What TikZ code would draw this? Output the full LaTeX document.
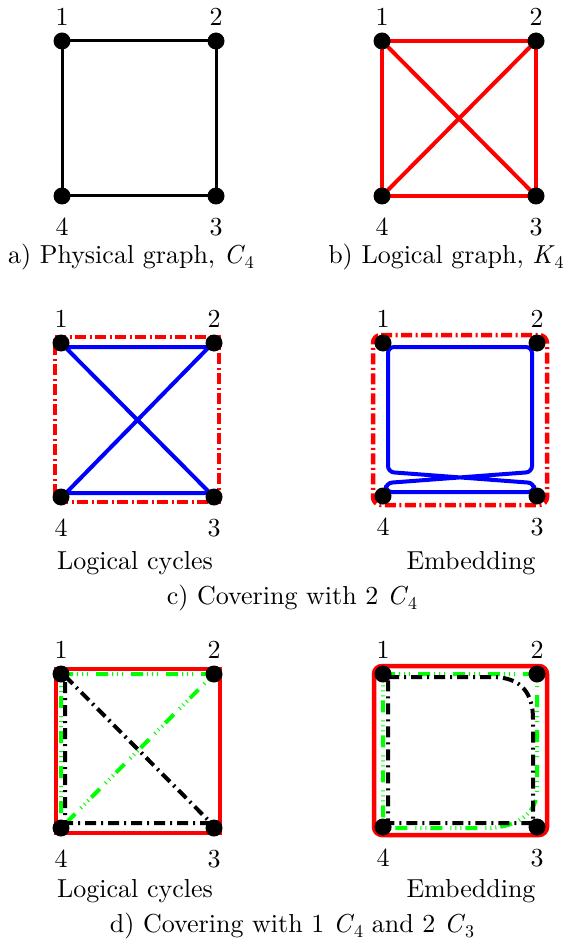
\documentclass[tikz,border=0pt]{standalone}
\usepackage{fontspec}
\setmainfont{lmroman10-regular.otf}[ItalicFont=lmroman10-italic.otf]
\usetikzlibrary{calc}
\pgfdeclarelayer{bg}
\pgfsetlayers{bg,main}
\definecolor{pgreen}{RGB}{0,255,0}
\definecolor{pred}{RGB}{255,0,0}
\definecolor{pblue}{RGB}{0,0,255}
\newcommand{\tkvup}[4]{\node[vtx,label={[lbl,name=#1l,label distance=7pt]above:#4}] (#1) at (#2,#3) {};}
\newcommand{\tkvdn}[4]{\node[vtx,label={[lbl,name=#1l,label distance=13pt]below:#4}] (#1) at (#2,#3) {};}
\newcommand{\tkcs}[2]{\textit{#1}\raisebox{-0.2em}{\fontsize{18}{20}\selectfont #2}}
\begin{document}
\begin{tikzpicture}[x=1pt,y=-1pt,
  every node/.style={font=\fontsize{26}{31}\selectfont},
  vtx/.style={circle,fill=black,inner sep=0pt,minimum size=17pt},
  lbl/.style={inner sep=0pt},
  captext/.style={anchor=base,inner sep=0pt},
  phys/.style={black,line width=3pt},
  logk/.style={pred,line width=4pt},
  bluecyc/.style={pblue,line width=4pt,line join=round},
  reddd/.style={pred,line width=4.5pt,dash pattern=on 11pt off 3.5pt on 2pt off 3.5pt},
  greendd/.style={pgreen,line width=4pt,dash pattern=on 12pt off 4pt on 1pt off 4pt on 1pt off 4pt on 1pt off 8pt},
  blackdd/.style={black,line width=4pt,dash pattern=on 11pt off 5pt on 2pt off 5pt},
  redsq/.style={pred,line width=4pt}]
\useasboundingbox (0,0) rectangle (584,941);

% ---- a) physical graph
\tkvup{a1}{62}{41}{1}
\tkvup{a2}{216}{41}{2}
\tkvdn{a4}{62}{196}{4}
\tkvdn{a3}{216}{196}{3}
\begin{pgfonlayer}{bg}
\draw[phys] (a1.center) -- (a2.center) -- (a3.center) -- (a4.center) -- cycle;
\end{pgfonlayer}
\node[captext] (capa) at (131,263) {a) Physical graph, \tkcs{C}{4}};

% ---- b) logical graph
\tkvup{b1}{382}{41}{1}
\tkvup{b2}{536}{41}{2}
\tkvdn{b4}{382}{196}{4}
\tkvdn{b3}{536}{196}{3}
\begin{pgfonlayer}{bg}
\draw[logk] (b1.center) -- (b2.center) -- (b3.center) -- (b4.center) -- cycle;
\draw[logk] (b1.center) -- (b3.center);
\draw[logk] (b2.center) -- (b4.center);
\end{pgfonlayer}
\node[captext] (capb) at (446,263) {b) Logical graph, \tkcs{K}{4}};

% ---- c) logical cycles
\tkvup{c1}{61}{343}{1}
\tkvup{c2}{214}{343}{2}
\tkvdn{c4}{61}{497}{4}
\tkvdn{c3}{214}{497}{3}
\begin{pgfonlayer}{bg}
\draw[reddd] ($(c1)+(-6,-6)$) -- ($(c2)+(5,-6)$) -- ($(c3)+(5,5)$) -- ($(c4)+(-6,5)$) -- cycle;
\draw[bluecyc] ($(c1)+(4,4)$) -- ($(c2)+(-5,4)$) -- ($(c4)+(5,-4)$) -- ($(c3)+(-4,-4)$) -- cycle;
\end{pgfonlayer}
\node[captext] (lc1) at (135,569) {Logical cycles};

% ---- c) embedding
\tkvup{e1}{383}{343}{1}
\tkvup{e2}{537}{343}{2}
\tkvdn{e4}{383}{496}{4}
\tkvdn{e3}{537}{496}{3}
\begin{pgfonlayer}{bg}
\draw[reddd,rounded corners=8pt] ($(e1)+(-10,-8)$) -- ($(e2)+(10,-8)$) -- ($(e3)+(10,9)$) -- ($(e4)+(-10,9)$) -- cycle;
\draw[bluecyc,rounded corners=6pt] ($(e1)+(5,4)$) -- ($(e2)+(-5,4)$) -- ($(e3)+(-5,-24)$) -- ($(e4)+(3,-13)$) -- ($(e4)+(3,-4)$) -- ($(e3)+(-3,-4)$) -- ($(e3)+(-3,-13)$) -- ($(e4)+(5,-24)$) -- cycle;
\end{pgfonlayer}
\node[captext] (em1) at (471,569) {Embedding};
\node[captext] (capc) at (292,604) {c) Covering with 2 \tkcs{C}{4}};

% ---- d) logical cycles
\tkvup{f1}{61}{674}{1}
\tkvup{f2}{214}{674}{2}
\tkvdn{f4}{61}{828}{4}
\tkvdn{f3}{214}{828}{3}
\begin{pgfonlayer}{bg}
\draw[redsq] ($(f1)+(-5,-5)$) -- ($(f2)+(6,-5)$) -- ($(f3)+(6,5)$) -- ($(f4)+(-5,5)$) -- cycle;
\draw[greendd] (f1.center) -- (f2.center) -- (f4.center) -- cycle;
\draw[blackdd] ($(f1)+(4,2)$) -- ($(f3)+(-3,-5)$) -- ($(f4)+(4,-5)$) -- cycle;
\end{pgfonlayer}
\node[captext] (lc2) at (135,897) {Logical cycles};

% ---- d) embedding
\tkvup{g1}{383}{674}{1}
\tkvup{g2}{537}{674}{2}
\tkvdn{g4}{383}{827}{4}
\tkvdn{g3}{537}{827}{3}
\begin{pgfonlayer}{bg}
\draw[redsq,line width=4.5pt,rounded corners=8pt] ($(g1)+(-9,-8)$) -- ($(g2)+(10,-8)$) -- ($(g3)+(10,8)$) -- ($(g4)+(-9,8)$) -- cycle;
\draw[greendd] (g1.center) -- (g2.center) -- ($(g3)+(0,-37)$) .. controls ($(g3)+(0,-12)$) and ($(g3)+(-22,1)$) .. ($(g3)+(-52,1)$) -- ($(g4)+(0,1)$) -- cycle;
\draw[blackdd] ($(g1)+(5,3)$) -- ($(g2)+(-45,3)$) .. controls ($(g2)+(-15,3)$) and ($(g2)+(-4,20)$) .. ($(g2)+(-4,45)$) -- ($(g3)+(-4,-4)$) -- ($(g4)+(5,-4)$) -- cycle;
\end{pgfonlayer}
\node[captext] (em2) at (471,897) {Embedding};
\node[captext] (capd) at (292,932) {d) Covering with 1 \tkcs{C}{4} and 2 \tkcs{C}{3}};
\end{tikzpicture}
\end{document}
